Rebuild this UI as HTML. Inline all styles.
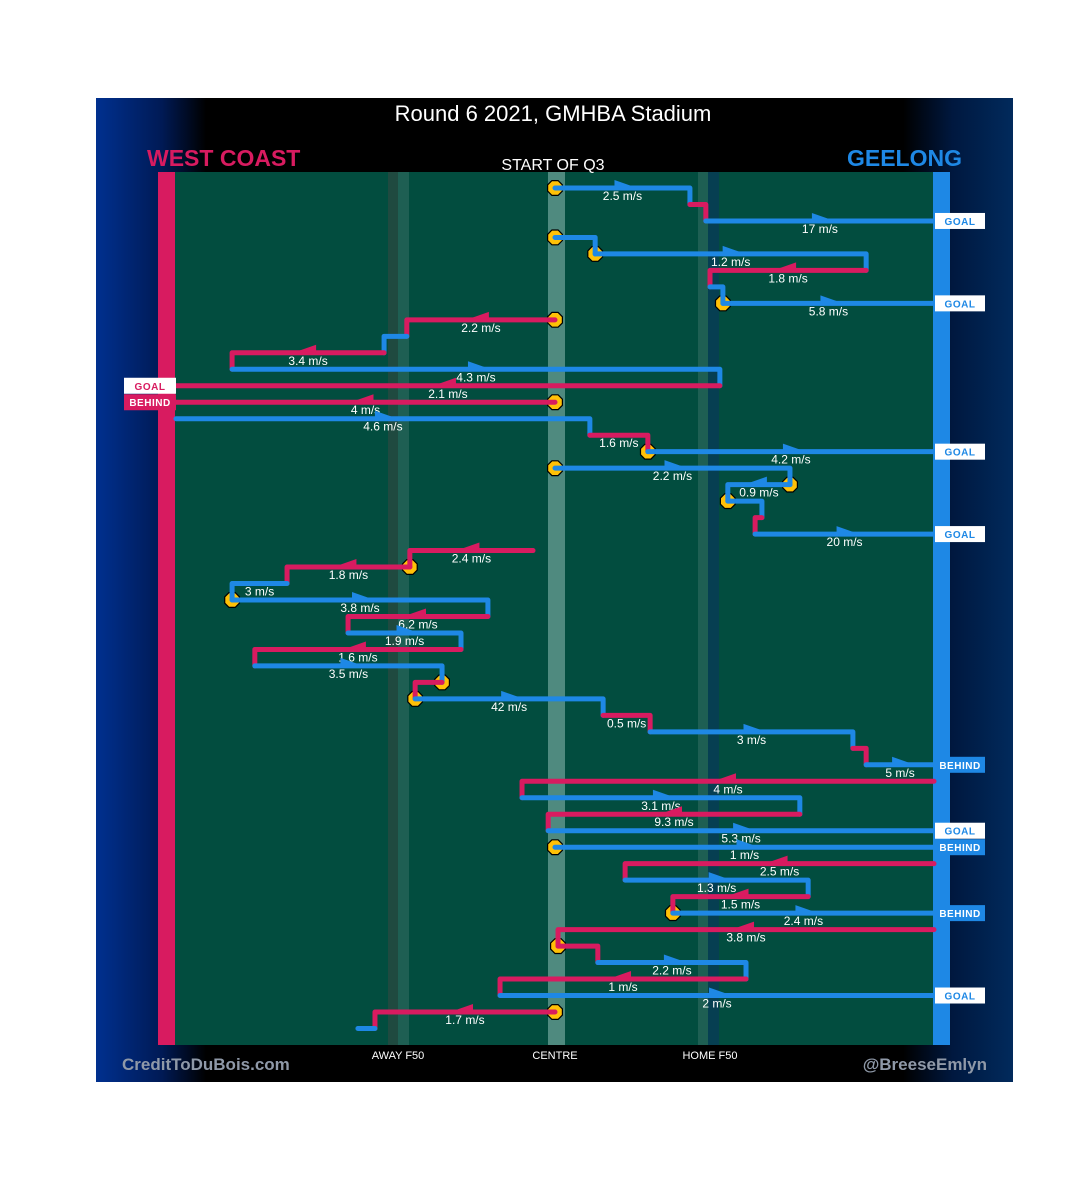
<!DOCTYPE html>
<html><head><meta charset="utf-8">
<style>
html,body{margin:0;padding:0;background:#fff;}
svg{display:block;font-family:"Liberation Sans",sans-serif;}
</style></head>
<body>
<svg id="chart" width="1080" height="1195" viewBox="0 0 1080 1195">
<defs>
<linearGradient id="lg" x1="0" x2="1"><stop offset="0" stop-color="#00308f"/><stop offset="0.6" stop-color="#001a55"/><stop offset="1" stop-color="#000"/></linearGradient>
<linearGradient id="rg" x1="0" x2="1"><stop offset="0" stop-color="#000"/><stop offset="0.45" stop-color="#00183f"/><stop offset="1" stop-color="#012a5c"/></linearGradient>
</defs>
<rect x="96" y="98" width="917" height="984" fill="#000"/>
<rect x="96" y="98" width="110" height="984" fill="url(#lg)"/>
<rect x="903" y="98" width="110" height="984" fill="url(#rg)"/>
<rect x="158" y="172" width="792" height="873" fill="#024d3f"/>
<rect x="388" y="172" width="10" height="873" fill="#1f4a40"/>
<rect x="398" y="172" width="11" height="873" fill="#1e5f53"/>
<rect x="548" y="172" width="17" height="873" fill="#4f8a7f"/>
<rect x="698" y="172" width="10" height="873" fill="#1e5f53"/>
<rect x="708" y="172" width="11" height="873" fill="#063f52"/>
<rect x="158" y="172" width="17" height="873" fill="#d81b60"/>
<rect x="933" y="172" width="17" height="873" fill="#1e88e5"/>
<text x="553" y="121" fill="#fff" font-size="22" text-anchor="middle">Round 6 2021, GMHBA Stadium</text>
<text x="147" y="166" fill="#d81b60" font-size="23" font-weight="bold">WEST COAST</text>
<text x="962" y="166" fill="#1e88e5" font-size="23" font-weight="bold" text-anchor="end">GEELONG</text>
<text x="553" y="170" fill="#fff" font-size="16" text-anchor="middle">START OF Q3</text>
<text x="398" y="1059" fill="#fff" font-size="11" text-anchor="middle">AWAY F50</text>
<text x="555" y="1059" fill="#fff" font-size="11" text-anchor="middle">CENTRE</text>
<text x="710" y="1059" fill="#fff" font-size="11" text-anchor="middle">HOME F50</text>
<text x="122" y="1070" fill="#8f99a8" font-size="17" font-weight="bold">CreditToDuBois.com</text>
<text x="987" y="1070" fill="#8f99a8" font-size="17" font-weight="bold" text-anchor="end">@BreeseEmlyn</text>
<g id="marks"></g>
</svg>
<script>
const teams = ['GEE','WCE','GEE','GEE','GEE','WCE','GEE','GEE','WCE','GEE','WCE','GEE','WCE','WCE','GEE','WCE','GEE','GEE','GEE','GEE','WCE','GEE','WCE','WCE','GEE','GEE','WCE','GEE','WCE','GEE','WCE','GEE','WCE','GEE','WCE','GEE','WCE','GEE','WCE','GEE','GEE','WCE','GEE','WCE','GEE','WCE','WCE','GEE','WCE','GEE','WCE','GEE'];
const xStart = [0,35.6,39.8,0,10.6,82.1,40.9,44.3,0,-39.1,-45.1,-85.2,43.5,0,-100,9.2,24.5,0,62,45.6,54.6,52.8,-5.8,-38.3,-70.7,-85.2,-17.7,-54.6,-24.8,-79.2,-29.8,-36.9,12.7,25.1,78.6,82.1,100,-8.7,64.6,-1.8,0,100,18.5,66.8,31.1,100,0.8,11.3,50.4,-14.5,0,-47.5];
const xEnd = [35.6,39.8,100,10.6,82.1,40.9,44.3,100,-39.1,-45.1,-85.2,43.5,-100,-100,9.2,24.5,100,62,45.6,54.6,52.8,100,-38.3,-70.7,-85.2,-17.7,-54.6,-24.8,-79.2,-29.8,-36.9,12.7,25.1,78.6,82.1,100,-8.7,64.6,-1.8,100,100,18.5,66.8,31.1,100,0.8,11.3,50.4,-14.5,100,-47.5,-52];
const speeds = ['2.5 m/s','','17 m/s','','1.2 m/s','1.8 m/s','','5.8 m/s','2.2 m/s','','3.4 m/s','4.3 m/s','2.1 m/s','4 m/s','4.6 m/s','1.6 m/s','4.2 m/s','2.2 m/s','0.9 m/s','','','20 m/s','2.4 m/s','1.8 m/s','3 m/s','3.8 m/s','6.2 m/s','1.9 m/s','1.6 m/s','3.5 m/s','','42 m/s','0.5 m/s','3 m/s','','5 m/s','4 m/s','3.1 m/s','9.3 m/s','5.3 m/s','1 m/s','2.5 m/s','1.3 m/s','1.5 m/s','2.4 m/s','3.8 m/s','','2.2 m/s','1 m/s','2 m/s','1.7 m/s',''];
const stoppages = [0,3,4,7,8,13,16,17,18,19,23,25,30,31,40,44,46,50];
const outcomes = {2:'GOAL',7:'GOAL',12:'GOAL',13:'BEHIND',16:'GOAL',21:'GOAL',35:'BEHIND',39:'GOAL',40:'BEHIND',44:'BEHIND',49:'GOAL'};

const NS='http://www.w3.org/2000/svg';
const g=document.getElementById('marks');
const xs=v=>555+v*3.79;
const ys=i=>188+i*16.48;
const col={GEE:'#1e88e5',WCE:'#d81b60'};
function mk(tag,attrs,parent){const e=document.createElementNS(NS,tag);for(const k in attrs)e.setAttribute(k,attrs[k]);(parent||g).appendChild(e);return e;}

// stoppage markers (under lines)
stoppages.forEach(i=>{
  const cx=xs(xStart[i]),cy=ys(i),r=8,pts=[];
  for(let k=0;k<8;k++){const a=Math.PI/8+k*Math.PI/4;pts.push((cx+r*Math.cos(a)).toFixed(1)+','+(cy+r*Math.sin(a)).toFixed(1));}
  const m=mk('polygon',{points:pts.join(' '),fill:'#ffc107',stroke:'#000','stroke-width':1.2});
  
  
});

teams.forEach((t,i)=>{
  const x1=xs(xStart[i]),x2=xs(xEnd[i]),y=ys(i);
  let d='M'+x1+','+y+' H'+x2;
  if(i+1<teams.length && !outcomes[i] && xEnd[i]===xStart[i+1]) d+=' V'+ys(i+1);
  const p=mk('path',{d:d,fill:'none',stroke:col[t],'stroke-width':5,'stroke-linecap':'round','stroke-linejoin':'round'});
  
  
  const mid=(x1+x2)/2,dir=Math.sign(x2-x1);
  if(Math.abs(x2-x1)>60){
    const a=mk('polygon',{points:(mid-dir*8)+','+(y-8)+' '+(mid+dir*12)+','+(y-1)+' '+(mid-dir*8)+','+(y-1),fill:col[t]});
    
    
  }
  if(speeds[i]){
    const tx=mk('text',{x:mid,y:y+12,fill:'#fff','font-size':12,'text-anchor':'middle'});
    tx.textContent=speeds[i];
    
    
  }
  if(outcomes[i]){
    const left=xEnd[i]<0, isGoal=outcomes[i]==='GOAL';
    const bx=left?124:935, bw=left?52:50;
    let bg,fg;
    if(left){bg=isGoal?'#fff':'#d81b60';fg=isGoal?'#d81b60':'#fff';}
    else{bg=isGoal?'#fff':'#1e88e5';fg=isGoal?'#1e88e5':'#fff';}
    const b=mk('rect',{x:bx,y:y-8,width:bw,height:16,fill:bg});
    
    
    const bt=mk('text',{x:bx+bw/2,y:y+4,fill:fg,'font-size':10,'font-weight':'bold','text-anchor':'middle','letter-spacing':'0.5'});
    bt.textContent=outcomes[i];
    
    
  }
});
</script>
</body></html>
